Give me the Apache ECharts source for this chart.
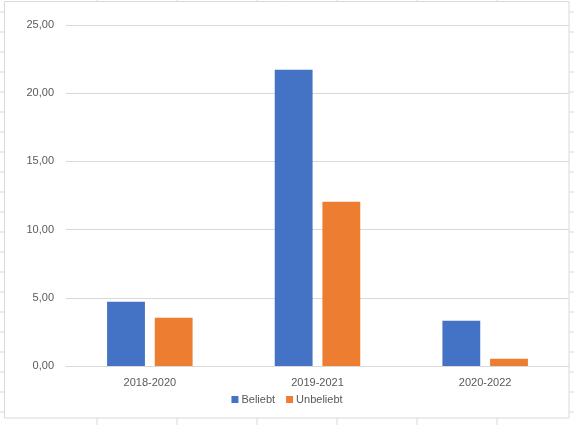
<!DOCTYPE html>
<html><head><meta charset="utf-8">
<script src="https://cdn.jsdelivr.net/npm/echarts@6/dist/echarts.min.js"></script>
<style>html,body{margin:0;padding:0;background:#fff}#c{width:574px;height:425px}</style>
</head><body><div id="c"></div>
<script>
const categories = ['2018-2020', '2019-2021', '2020-2022'];
const beliebt = [4.71, 21.72, 3.32];
const unbeliebt = [3.54, 12.05, 0.54];
const seriesNames = ['Beliebt', 'Unbeliebt'];

const chart = echarts.init(document.getElementById('c'), null, {renderer: 'canvas'});
const font = 'Liberation Sans, Arial, sans-serif';
const gridColor = '#d9d9d9';

// decorative spreadsheet cell lines peeking around the chart frame
const deco = [];
for (let y = 12; y <= 412; y += 20) {
  deco.push({type: 'line', shape: {x1: 0, y1: y, x2: 4, y2: y}, style: {stroke: gridColor, lineWidth: 1}, silent: true});
  deco.push({type: 'line', shape: {x1: 569, y1: y, x2: 574, y2: y}, style: {stroke: gridColor, lineWidth: 1}, silent: true});
}
for (let x = 97; x <= 497; x += 80) {
  deco.push({type: 'line', shape: {x1: x, y1: 418, x2: x, y2: 425}, style: {stroke: gridColor, lineWidth: 1}, silent: true});
  deco.push({type: 'line', shape: {x1: x, y1: 0, x2: x, y2: 1}, style: {stroke: gridColor, lineWidth: 1}, silent: true});
}
deco.push({type: 'rect', shape: {x: 4.5, y: 1.5, width: 564.5, height: 416.5}, style: {fill: 'none', stroke: gridColor, lineWidth: 1}, silent: true, z: -1});

chart.setOption({
  animation: false,
  textStyle: {fontFamily: font},
  graphic: deco,
  color: ['#4472C4', '#ED7D31'],
  grid: {left: 66, right: 5, top: 25, bottom: 59, containLabel: false},
  legend: {
    data: seriesNames,
    bottom: 15,
    left: 'center',
    itemWidth: 7, itemHeight: 7, itemGap: 11,
    icon: 'rect',
    textStyle: {color: '#595959', fontSize: 11, fontFamily: font, padding: [0, 0, 0, -2]}
  },
  xAxis: {
    type: 'category',
    data: categories,
    axisLine: {show: true, lineStyle: {color: gridColor}},
    axisTick: {show: false},
    axisLabel: {color: '#595959', fontSize: 11, fontFamily: font, margin: 11}
  },
  yAxis: {
    type: 'value',
    min: 0, max: 25, interval: 5,
    axisLine: {show: false},
    axisTick: {show: false},
    splitLine: {lineStyle: {color: gridColor}},
    axisLabel: {
      color: '#595959', fontSize: 11, fontFamily: font, margin: 12,
      formatter: v => v.toFixed(2).replace('.', ',')
    }
  },
  series: [
    {name: seriesNames[0], type: 'bar', data: beliebt, barGap: '26%', barCategoryGap: '49%'},
    {name: seriesNames[1], type: 'bar', data: unbeliebt, barGap: '26%', barCategoryGap: '49%'}
  ]
});
</script>
</body></html>
